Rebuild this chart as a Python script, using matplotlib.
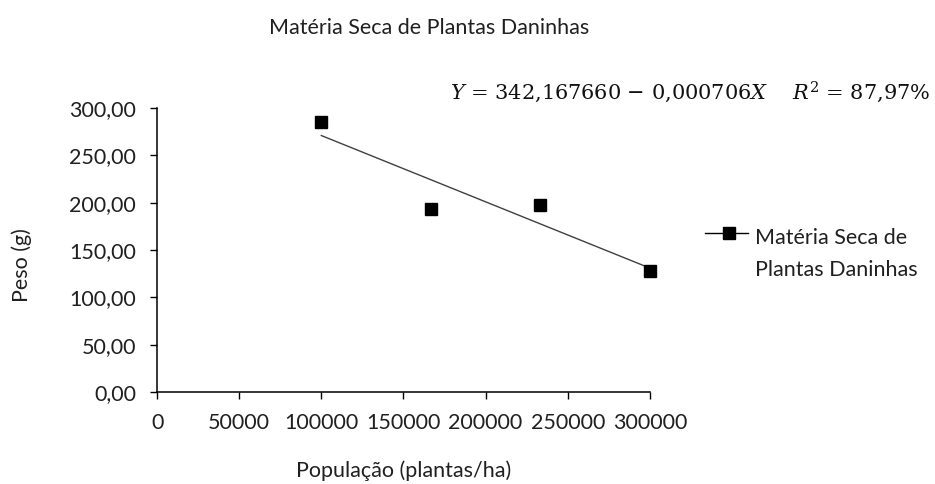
import matplotlib
matplotlib.use("Agg")
import matplotlib.pyplot as plt
from matplotlib.lines import Line2D
from matplotlib.ticker import FuncFormatter
import numpy as np

# data
populacao = [100000, 166667, 233333, 300000]
peso = [285.0, 193.0, 197.5, 128.0]
x_ticks = [0, 50000, 100000, 150000, 200000, 250000, 300000]
y_ticks = [0, 50, 100, 150, 200, 250, 300]

plt.rcParams['font.family'] = ['Lato', 'DejaVu Sans']
plt.rcParams['mathtext.fontset'] = 'dejavuserif'

fs = 15.5
tc = '#202020'
ms = 8

fig = plt.figure(figsize=(9.35, 4.84), dpi=100)
ax = fig.add_axes([0.168, 0.19, 0.527, 0.587])

# trend line from a linear fit of the points
coef = np.polyfit(populacao, peso, 1)
xs = np.array([populacao[0], populacao[-1]])
ax.plot(xs, np.polyval(coef, xs), color='#404040', lw=1.0, zorder=2)
ax.plot(populacao, peso, ls='none', marker='s', ms=ms, color='black',
        zorder=3, clip_on=False)

ax.set_xlim(0, 300000)
ax.set_ylim(0, 300)
ax.set_xticks(x_ticks)
ax.set_yticks(y_ticks)
ax.yaxis.set_major_formatter(FuncFormatter(lambda v, p: f"{v:.2f}".replace('.', ',')))
ax.tick_params(direction='out', length=5, width=1, colors='black', labelsize=fs,
               labelcolor=tc)
ax.tick_params(axis='x', pad=10)
ax.tick_params(axis='y', pad=10)
for s in ['top', 'right']:
    ax.spines[s].set_visible(False)
for s in ['left', 'bottom']:
    ax.spines[s].set_linewidth(1.1)

ax.set_xlabel('População (plantas/ha)', fontsize=fs, color=tc, labelpad=20)
fig.text(0.0235, 0.452, 'Peso (g)', rotation=90, fontsize=fs, color=tc,
         ha='center', va='center')

fig.text(0.459, 0.942, 'Matéria Seca de Plantas Daninhas', fontsize=fs,
         color=tc, ha='center', va='center')

fig.text(0.995, 0.81, r'$Y$ = 342,167660 − 0,000706$X$    $R^2$ = 87,97%',
         fontsize=15, family='DejaVu Serif', ha='right', va='center', color='#111111')

# legend key drawn by hand: line with square marker next to a two-line label
fig.add_artist(Line2D([0.754, 0.800], [0.519, 0.519], color='black', lw=1.0))
fig.add_artist(Line2D([0.78], [0.519], color='black', marker='s', ms=ms, ls='none'))
fig.text(0.807, 0.475, 'Matéria Seca de\nPlantas Daninhas', fontsize=fs, color=tc,
         ha='left', va='center', linespacing=1.8)

fig.savefig('out.png', dpi=100, facecolor='white')
